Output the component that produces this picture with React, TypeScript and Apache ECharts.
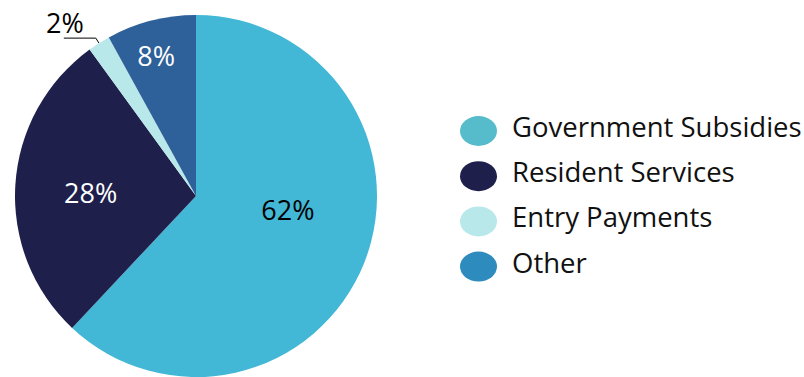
import React, { useEffect, useRef } from "react";
import * as echarts from "echarts";

const categories = ["Government Subsidies", "Resident Services", "Entry Payments", "Other"];
const values = [62, 28, 2, 8];
const sliceColors = ["#42B7D6", "#1E1F4B", "#B8E8EA", "#2E6099"];
const legendColors = ["#56BCCB", "#1E1F4B", "#B8E8EA", "#2E8BBE"];
const labelColors = ["#000000", "#FFFFFF", "#000000", "#FFFFFF"];
const outsideLabelIndex = 2;

const FONT = "'Open Sans', 'Noto Sans', sans-serif";

export default function App() {
  const ref = useRef<HTMLDivElement>(null);
  useEffect(() => {
    document.body.style.margin = "0";
    if (!ref.current) return;
    const chart = echarts.init(ref.current, null, { renderer: "svg" });
    const labelOffsets: Record<number, [number, number]> = {
      0: [5, -21],
      1: [-12, 2],
      3: [-16.5, -50],
    };
    chart.setOption({
      animation: false,
      backgroundColor: "#FFFFFF",
      legend: {
        orient: "vertical",
        left: 460,
        top: 112.5,
        padding: 0,
        itemWidth: 37,
        itemHeight: 30,
        itemGap: 7.7,
        selectedMode: false,
        icon: "path://M0,15A18.5,15,0,1,1,37,15A18.5,15,0,1,1,0,15Z",
        formatter: (name: string) => `{a|${name}}\n{b| }`,
        textStyle: {
          fontFamily: FONT,
          fontSize: 27.5,
          color: "#111111",
          padding: [0, 0, 0, 10],
          rich: {
            a: { fontFamily: FONT, fontSize: 27.5, color: "#111111", lineHeight: 30 },
            b: { fontSize: 8, lineHeight: 9 },
          },
        },
        data: categories.map((name, i) => ({
          name,
          itemStyle: { color: legendColors[i] },
        })),
      },
      series: [
        {
          type: "pie",
          center: [196, 196],
          radius: [0, 181],
          startAngle: 90,
          clockwise: true,
          silent: true,
          avoidLabelOverlap: false,
          percentPrecision: 0,
          label: {
            show: true,
            position: "inside",
            formatter: "{d}%",
            fontFamily: FONT,
            fontSize: 27,
          },
          labelLayout: (params: any) => {
            const o = labelOffsets[params.dataIndex];
            if (!o) return {};
            return { dx: o[0], dy: o[1] };
          },
          data: categories.map((name, i) => ({
            name,
            value: values[i],
            itemStyle: { color: sliceColors[i], borderWidth: 0 },
            label:
              i === outsideLabelIndex
                ? {
                    position: "outside",
                    color: labelColors[i],
                    distanceToLabelLine: -20,
                    formatter: "{a|{d}%}\n{b| }",
                    rich: {
                      a: { fontFamily: FONT, fontSize: 27, color: labelColors[i], lineHeight: 30 },
                      b: { fontSize: 10, lineHeight: 32 },
                    },
                  }
                : { color: labelColors[i] },
            labelLine:
              i === outsideLabelIndex
                ? { show: true, length: 6, length2: 32, lineStyle: { color: "#000000", width: 1 } }
                : { show: false },
          })),
        },
      ],
    });
    return () => chart.dispose();
  }, []);
  return <div ref={ref} style={{ width: 804, height: 377 }} />;
}
